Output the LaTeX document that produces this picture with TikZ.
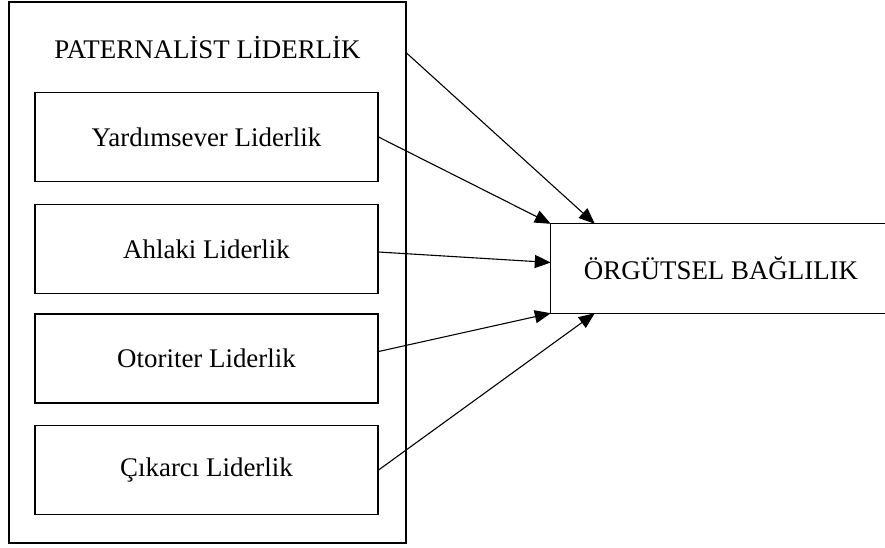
\documentclass[tikz,border=0pt]{standalone}
\usepackage{fontspec}
\setmainfont{Liberation Serif}
\usetikzlibrary{arrows.meta,calc}

\tikzset{
  lbl/.style={font=\fontsize{26.9}{30}\selectfont, inner sep=0pt},
  box/.style={draw, line width=1.1pt, inner sep=0pt, minimum width=343pt, minimum height=89pt,
              font=\fontsize{26.9}{30}\selectfont},
  link/.style={line width=1.1pt, -{Triangle[length=16pt,width=13pt]}},
}

\begin{document}
\begin{tikzpicture}[x=1pt, y=-1pt]
  % page frame
  \clip (0,0) rectangle (885,547);

  % outer group: paternalist leadership
  \node[draw, line width=1.1pt, inner sep=0pt, minimum width=397pt, minimum height=541pt]
    (pat) at (207.5,272.5) {};
  \node[lbl] (title) at (207.5,48) {PATERNALİST LİDERLİK};

  % the four dimensions
  \node[box] (b1) at (206.5,137)   {Yardımsever Liderlik};
  \node[box] (b2) at (206.5,249)   {Ahlaki Liderlik};
  \node[box] (b3) at (206.5,358.5) {Otoriter Liderlik};
  \node[box] (b4) at (206.5,470)   {Çıkarcı Liderlik};

  % outcome box, open to the right
  \node[lbl, minimum width=340pt, minimum height=89pt] (ob) at (721,268.5) {ÖRGÜTSEL BAĞLILIK};
  \draw[line width=1.1pt] (ob.north east) -- (ob.north west) -- (ob.south west) -- (ob.south east);

  % connectors
  \coordinate (patout) at (pat.east |- 0,53);
  \draw[link] (patout) -- ($(ob.north west)+(44,0)$);
  \draw[link] (b1.east) -- (ob.north west);
  \draw[link] ($(b2.east)+(0,3)$) -- ($(ob.west)+(0,-6)$);
  \draw[link] ($(b3.east)+(0,-7)$) -- (ob.south west);
  \draw[link] (b4.east) -- ($(ob.south west)+(44,0)$);
\end{tikzpicture}
\end{document}
